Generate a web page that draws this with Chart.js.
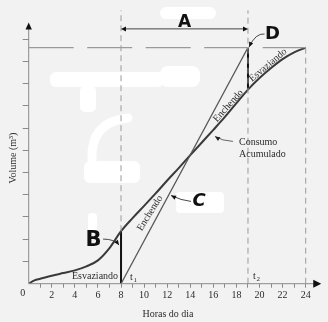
<!DOCTYPE html>
<html>
<head>
<meta charset="utf-8">
<script src="https://cdn.jsdelivr.net/npm/chart.js@4.4.0/dist/chart.umd.min.js"></script>
<style>
  html, body { margin: 0; padding: 0; background: #f2f2f2; }
  #wrap { width: 328px; height: 322px; }
</style>
</head>
<body>
<div id="wrap"><canvas id="chart" width="328" height="322"></canvas></div>
<script>
/* ====== RESERVATORIO: VOLUME x HORAS ====== */

// consumo acumulado ao longo do dia
const horas = [0, 0.5, 1, 2, 3, 4, 5, 6, 7, 8, 9, 10, 11, 12, 13, 14, 15, 16, 17, 18, 19, 20, 21, 22, 23, 24]
const consumo = [0, 0.15, 0.22, 0.36, 0.48, 0.6, 0.78, 1.05, 1.6, 2.36, 2.95, 3.5, 4.06, 4.64, 5.2, 5.78, 6.35, 6.92, 7.5, 8.12, 8.73, 9.25, 9.7, 10.1, 10.4, 10.62]

// bombeamento (enchendo) entre t1 e t2
const t1 = 8, t2 = 19
const volMax = 10.62
const enchendoX = [t1, t2]
const enchendoY = [0, volMax]

const xTickLabels = [2, 4, 6, 8, 10, 12, 14, 16, 18, 20, 22, 24]
const yTickCount = 11
const xMax = 25.5, yMax = 12.3

const vT1 = consumo[horas.indexOf(t1)]
const vT2 = consumo[horas.indexOf(t2)]
const pts = (xs, ys) => xs.map((x, i) => ({ x, y: ys[i] }))

const serif = '"Liberation Serif", "Times New Roman", serif'
const hand = '"DejaVu Sans", sans-serif'
const dashGray = '#9a9a9a'

function blob(ctx, x, y, w, h, r) {
  ctx.beginPath()
  ctx.roundRect(x, y, w, h, r)
  ctx.fill()
}

function head(ctx, fx, fy, tx, ty, len, wid) {
  const a = Math.atan2(ty - fy, tx - fx)
  ctx.beginPath()
  ctx.moveTo(tx, ty)
  ctx.lineTo(tx - len * Math.cos(a) + wid * Math.sin(a), ty - len * Math.sin(a) - wid * Math.cos(a))
  ctx.lineTo(tx - len * Math.cos(a) - wid * Math.sin(a), ty - len * Math.sin(a) + wid * Math.cos(a))
  ctx.closePath()
  ctx.fill()
}

function pointer(ctx, sx, sy, cx, cy, tx, ty) {
  ctx.beginPath()
  ctx.moveTo(sx, sy)
  ctx.quadraticCurveTo(cx, cy, tx, ty)
  ctx.stroke()
  head(ctx, cx, cy, tx, ty, 5, 2.2)
}

function rotText(ctx, txt, x, y, deg) {
  ctx.save()
  ctx.translate(x, y)
  ctx.rotate(deg * Math.PI / 180)
  ctx.textAlign = 'center'; ctx.textBaseline = 'middle'
  ctx.fillText(txt, 0, 0)
  ctx.restore()
}

const deco = {
  id: 'deco',
  beforeDraw(chart) {
    const ctx = chart.ctx
    ctx.save()
    ctx.fillStyle = '#f2f2f2'
    ctx.fillRect(0, 0, chart.width, chart.height)
    // marcas de borracha
    ctx.fillStyle = '#ffffff'
    blob(ctx, 160, 7, 56, 12, 6)
    blob(ctx, 176, 192, 48, 21, 4)
    blob(ctx, 50, 72, 114, 15, 6)
    blob(ctx, 160, 66, 40, 21, 8)
    blob(ctx, 80, 86, 16, 26, 5)
    blob(ctx, 84, 161, 56, 22, 6)
    blob(ctx, 88, 213, 9, 20, 4)
    ctx.strokeStyle = '#ffffff'; ctx.lineWidth = 9; ctx.lineCap = 'round'
    ctx.beginPath(); ctx.moveTo(92, 160); ctx.quadraticCurveTo(90, 122, 128, 118); ctx.stroke()
    ctx.restore()
  },
  afterDatasetsDraw(chart) {
    const ctx = chart.ctx
    const xs = chart.scales.x, ys = chart.scales.y
    const P = (h, v) => [xs.getPixelForValue(h), ys.getPixelForValue(v)]
    const [ox, oy] = P(0, 0)
    ctx.save()

    // eixos com setas
    ctx.strokeStyle = '#8a8a8a'; ctx.lineWidth = 1; ctx.fillStyle = '#111'
    const yTop = P(0, 11.75)[1], xEnd = P(25.35, 0)[0]
    ctx.beginPath(); ctx.moveTo(ox, oy); ctx.lineTo(ox, yTop + 5); ctx.stroke()
    ctx.beginPath(); ctx.moveTo(ox, oy); ctx.lineTo(xEnd - 6, oy); ctx.stroke()
    head(ctx, ox, oy, ox, yTop, 7, 3.2)
    head(ctx, ox, oy, xEnd, oy, 8, 4)

    // seta A entre t1 e t2
    const [ax1, ay] = P(t1, 11.46), [ax2] = P(t2, 11.46)
    ctx.strokeStyle = '#444'
    ctx.beginPath(); ctx.moveTo(ax1 + 2, ay); ctx.lineTo(ax2 - 2, ay); ctx.stroke()
    head(ctx, ax2, ay, ax1, ay, 5, 2.5)
    head(ctx, ax1, ay, ax2, ay, 5, 2.5)

    // textos
    ctx.fillStyle = '#2b2b2b'
    ctx.font = '10px ' + serif
    ctx.textAlign = 'center'; ctx.textBaseline = 'alphabetic'
    ctx.fillText('0', ox - 6, oy + 12)
    const [b8x, b8y] = P(t1, 0), [b19x, b19y] = P(t2, 0)
    ctx.fillText('Esvaziando', b8x - 26, b8y - 5)
    ctx.textAlign = 'left'
    ctx.fillText('t', b8x + 9, b8y - 4)
    ctx.fillText('t', b19x + 5, b19y - 5)
    ctx.font = '7px ' + serif
    ctx.fillText('1', b8x + 12.5, b8y - 2)
    ctx.fillText('2', b19x + 8.5, b19y - 3)

    ctx.font = '10px ' + serif
    const [cx, cy] = P(18.22, 6.22)
    ctx.fillText('Consumo', cx, cy)
    ctx.fillText('Acumulado', cx, cy + 12)
    ctx.strokeStyle = '#555'; ctx.fillStyle = '#222'; ctx.lineWidth = 0.9
    pointer(ctx, cx - 6, cy - 4, cx - 17, cy - 4.5, cx - 24, cy - 9)

    ctx.fillStyle = '#2b2b2b'
    rotText(ctx, 'Enchendo', ...P(10.51, 3.17), -58)
    rotText(ctx, 'Enchendo', ...P(17.3, 8.0), -48)
    rotText(ctx, 'Esvaziando', ...P(20.74, 9.83), -40)

    ctx.font = '10px ' + serif
    ctx.textAlign = 'center'
    ctx.fillText('Horas do dia', 168, 317)
    ctx.save()
    ctx.translate(13, 158); ctx.rotate(-Math.PI / 2)
    ctx.textBaseline = 'middle'
    ctx.fillText('Volume (m\u00B3)', 0, 0)
    ctx.restore()

    // letras A B C D
    ctx.fillStyle = '#111'; ctx.strokeStyle = '#333'; ctx.lineWidth = 0.9
    ctx.textAlign = 'center'; ctx.textBaseline = 'middle'
    ctx.font = 'bold 17px ' + hand
    const [lx, ly] = P((t1 + t2) / 2, 11.75)
    ctx.fillText('A', lx, ly)
    ctx.font = 'bold 21px ' + hand
    const [bx, by] = P(5.62, 1.94)
    ctx.fillText('B', bx, by)
    pointer(ctx, bx + 9.5, by - 1.5, bx + 21, by - 1.5, bx + 25.5, by + 4.5)
    ctx.font = 'bold italic 18px ' + hand
    const [ccx, ccy] = P(14.76, 3.70)
    ctx.fillText('C', ccx, ccy)
    pointer(ctx, ccx - 8, ccy, ccx - 18, ccy - 1, ccx - 28, ccy - 6)
    ctx.font = 'bold 18px ' + hand
    const [dx, dy] = P(21.13, 11.23)
    ctx.fillText('D', dx, dy)
    pointer(ctx, dx - 8, dy, dx - 17, dy - 1, dx - 23.5, dy + 13)

    ctx.restore()
  }
}

const tickColor = c => (c.tick && c.tick.value >= 1 && c.tick.value <= 24) ? '#8a8a8a' : 'rgba(0,0,0,0)'

new Chart(document.getElementById('chart'), {
  type: 'line',
  data: {
    datasets: [
      { data: pts([0, 24], [volMax, volMax]), borderColor: dashGray, borderWidth: 1.2, borderDash: [45, 13.5] },
      { data: pts([t1, t1], [vT1, yMax]), borderColor: dashGray, borderWidth: 1, borderDash: [6, 4] },
      { data: pts([t2, t2], [0, yMax]), borderColor: dashGray, borderWidth: 1, borderDash: [6, 4] },
      { data: pts([24, 24], [0, volMax]), borderColor: dashGray, borderWidth: 1, borderDash: [6, 4] },
      { data: pts(enchendoX, enchendoY), borderColor: '#555', borderWidth: 1.3 },
      { data: pts(horas, consumo), borderColor: '#3a3a3a', borderWidth: 2, cubicInterpolationMode: 'monotone' },
      { data: pts([t1, t1], [0, vT1]), borderColor: '#111', borderWidth: 2 },
      { data: pts([t2, t2], [vT2, volMax]), borderColor: '#111', borderWidth: 2 }
    ]
  },
  options: {
    responsive: false, animation: false,
    layout: { padding: { top: 4, right: 5, left: 0, bottom: 0 } },
    elements: { point: { radius: 0 }, line: { fill: false } },
    plugins: { legend: { display: false }, tooltip: { enabled: false } },
    scales: {
      x: {
        type: 'linear', min: 0, max: xMax,
        afterFit(s) { s.height = 38.3 },
        border: { display: false },
        grid: { drawOnChartArea: false, drawTicks: true, tickLength: 4, color: tickColor },
        ticks: {
          stepSize: 1, autoSkip: false, maxRotation: 0, padding: 2, color: '#2b2b2b',
          font: { family: serif, size: 10 },
          callback: v => xTickLabels.includes(v) ? String(v) : ''
        }
      },
      y: {
        type: 'linear', min: 0, max: yMax,
        afterFit(s) { s.width = 28.7 },
        border: { display: false },
        grid: { drawOnChartArea: false, drawTicks: true, tickLength: 6,
          color: c => (c.tick && c.tick.value >= 1 && c.tick.value <= yTickCount) ? '#8a8a8a' : 'rgba(0,0,0,0)' },
        ticks: { stepSize: 1, callback: () => '' }
      }
    }
  },
  plugins: [deco]
})
</script>
</body>
</html>
